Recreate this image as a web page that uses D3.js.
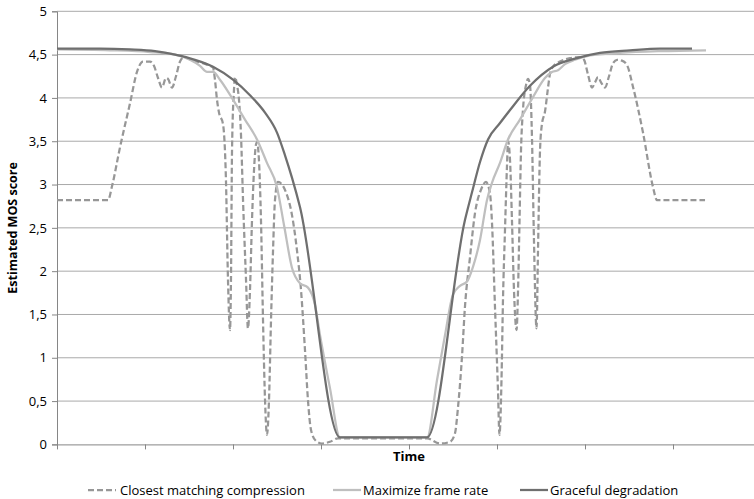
<!DOCTYPE html>
<html>
<head>
<meta charset="utf-8">
<script src="https://cdn.jsdelivr.net/npm/d3@7"></script>
<style>
  html, body { margin: 0; padding: 0; background: #fff; }
  svg { display: block; }
  text { font-family: "Open Sans", "DejaVu Sans", sans-serif; fill: #000; }
</style>
</head>
<body>
<svg id="chart" width="754" height="499"></svg>
<script>
// ---- data (time in arbitrary units, 10 per x tick; value = estimated MOS) ----
const yTicks = [0, 0.5, 1, 1.5, 2, 2.5, 3, 3.5, 4, 4.5, 5];
const yTickLabels = ["0", "0,5", "1", "1,5", "2", "2,5", "3", "3,5", "4", "4,5", "5"];
const xTicks = [0, 10, 20, 30, 40, 50, 60, 70, 80];
const seriesNames = ["Closest matching compression", "Maximize frame rate", "Graceful degradation"];

const closestT = [0, 5.80, 6.25, 7.16, 8.30, 9.09, 9.77, 10.57, 11.02, 11.48, 11.93, 12.39, 12.61, 13.07, 13.52, 13.98, 14.43, 15.45, 16.59, 17.39, 17.73, 17.95, 18.18, 18.41, 18.86, 19.20, 19.43, 19.66, 19.77, 19.89, 20.11, 20.23, 20.45, 20.68, 20.91, 21.14, 21.48, 21.70, 21.93, 22.16, 22.39, 22.61, 22.73, 22.95, 23.18, 23.41, 23.64, 23.86, 24.09, 24.32, 24.55, 24.77, 25.11, 25.57, 26.02, 26.70, 27.27, 27.73, 28.18, 28.52, 28.86, 29.43, 30.11, 31.02, 31.93, 36.93, 42.05,
  43.52, 44.66, 45.23, 45.57, 46.02, 46.36, 46.93, 47.50, 48.18, 48.75, 49.20, 49.43, 49.77, 50.11, 50.28, 50.51, 50.68, 50.91, 51.14, 51.25, 51.48, 51.70, 51.93, 52.22, 52.39, 52.56, 52.73, 52.95, 53.30, 53.52, 53.75, 53.98, 54.20, 54.49, 54.66, 54.89, 55.11, 55.45, 55.80, 56.02, 56.36, 57.16, 58.30, 59.43, 59.89, 60.34, 60.80, 61.14, 61.48, 61.82, 62.27, 62.73, 63.18, 63.64, 64.20, 64.77, 65.45, 66.59, 67.73, 68.18, 73.64];
const closestV = [2.82, 2.82, 2.98, 3.43, 3.94, 4.30, 4.42, 4.42, 4.37, 4.23, 4.12, 4.23, 4.22, 4.12, 4.25, 4.42, 4.47, 4.43, 4.40, 4.37, 4.35, 4.21, 3.98, 3.83, 3.70, 3.05, 1.90, 1.32, 1.90, 3.40, 4.09, 4.24, 4.15, 3.98, 3.57, 2.82, 1.90, 1.34, 1.78, 2.59, 3.17, 3.46, 3.49, 3.28, 2.59, 1.44, 0.51, 0.11, 0.51, 1.44, 2.24, 2.82, 3.03, 3.00, 2.91, 2.65, 2.24, 1.78, 1.09, 0.51, 0.17, 0.04, 0.01, 0.03, 0.07, 0.07, 0.07,
  0.01, 0.03, 0.13, 0.43, 1.01, 1.59, 2.16, 2.67, 2.94, 3.03, 2.90, 2.56, 1.59, 0.63, 0.11, 0.74, 1.67, 2.48, 3.23, 3.50, 3.28, 2.59, 1.78, 1.32, 1.78, 2.59, 3.40, 3.86, 4.15, 4.22, 4.15, 3.52, 2.36, 1.34, 2.24, 3.40, 3.70, 3.84, 4.12, 4.28, 4.36, 4.42, 4.46, 4.47, 4.44, 4.27, 4.12, 4.18, 4.24, 4.18, 4.12, 4.25, 4.40, 4.44, 4.43, 4.38, 4.13, 3.60, 2.97, 2.82, 2.82];

const maxFrameT = [0, 6.02, 10.57, 13.41, 15.11, 16.25, 17.05, 17.73, 18.52, 20.0, 21.36, 22.73, 23.86, 25.0, 25.8, 26.7, 27.61, 28.52, 29.32, 29.89, 31.02, 32.16, 42.05, 43.18, 44.09, 45.0, 45.8, 46.59, 47.27, 48.07, 48.86, 49.43, 50.34, 51.25, 52.61, 54.09, 55.45, 56.25, 56.93, 57.73, 58.86, 60.57, 63.98, 68.52, 73.75];
const maxFrameV = [4.56, 4.55, 4.53, 4.50, 4.44, 4.37, 4.30, 4.30, 4.21, 3.98, 3.75, 3.52, 3.25, 2.97, 2.53, 2.04, 1.86, 1.81, 1.61, 1.26, 0.65, 0.08, 0.08, 0.74, 1.26, 1.73, 1.83, 1.88, 2.05, 2.36, 2.82, 3.02, 3.25, 3.52, 3.75, 4.01, 4.23, 4.30, 4.32, 4.39, 4.44, 4.49, 4.52, 4.54, 4.55];

const gracefulT = [0, 4.89, 8.30, 11.14, 13.41, 15.68, 17.73, 20.0, 21.93, 23.64, 25.0, 25.9, 26.7, 27.61, 32.16, 42.05, 46.36, 47.16, 48.07, 48.98, 50.34, 51.48, 53.75, 56.36, 59.09, 61.7, 65.11, 68.52, 72.16];
const gracefulV = [4.57, 4.57, 4.56, 4.54, 4.50, 4.44, 4.36, 4.21, 4.03, 3.83, 3.60, 3.34, 3.08, 2.74, 0.08, 0.08, 2.59, 2.91, 3.26, 3.52, 3.71, 3.86, 4.14, 4.36, 4.46, 4.52, 4.55, 4.57, 4.57];

// ---- layout ----
const svg = d3.select("#chart");
const x = d3.scaleLinear().domain([0, 80]).range([57, 761]);
const y = d3.scaleLinear().domain([0, 5]).range([444.4, 11.3]);

svg.append("rect").attr("width", 754).attr("height", 499).attr("fill", "#fff");

// gridlines
svg.append("g").selectAll("line").data(yTicks.slice(1)).join("line")
  .attr("x1", x(0)).attr("x2", x(80))
  .attr("y1", d => y(d)).attr("y2", d => y(d))
  .attr("stroke", "#a9a9a9").attr("stroke-width", 1);

// y axis
const yAxis = d3.axisLeft(y).tickValues(yTicks)
  .tickFormat((d, i) => yTickLabels[i]).tickSizeOuter(0).tickSize(5).tickPadding(5);
const gy = svg.append("g").attr("transform", `translate(${x(0)},0)`).call(yAxis);
gy.select(".domain").attr("stroke", "#868686");
gy.selectAll(".tick line").attr("stroke", "#868686");
gy.selectAll(".tick text").attr("font-size", 13).attr("font-family", "Open Sans").attr("fill", "#222");

// x axis
const xAxis = d3.axisBottom(x).tickValues(xTicks).tickFormat("").tickSize(5).tickSizeOuter(0);
const gx = svg.append("g").attr("transform", `translate(0,${y(0)})`).call(xAxis);
gx.select(".domain").attr("stroke", "#868686");
gx.selectAll(".tick line").attr("stroke", "#868686");

// lines
const line = d3.line().x(d => x(d[0])).y(d => y(d[1])).curve(d3.curveMonotoneX);
const zip = (a, b) => a.map((t, i) => [t, b[i]]);

const series = [
  { data: zip(closestT, closestV), color: "#979797", dash: "6,3" },
  { data: zip(maxFrameT, maxFrameV), color: "#bfbfbf", dash: null },
  { data: zip(gracefulT, gracefulV), color: "#6f6f6f", dash: null }
];

series.forEach(s => {
  svg.append("path").datum(s.data)
    .attr("d", line)
    .attr("fill", "none")
    .attr("stroke", s.color)
    .attr("stroke-width", 2.25)
    .attr("stroke-linejoin", "round")
    .attr("stroke-dasharray", s.dash);
});

// axis titles
svg.append("text").attr("x", 409).attr("y", 461)
  .attr("text-anchor", "middle").attr("font-weight", "bold").attr("font-size", 13)
  .text("Time");
svg.append("text")
  .attr("transform", `translate(17,${(y(0) + y(5)) / 2}) rotate(-90)`)
  .attr("text-anchor", "middle").attr("font-weight", "bold").attr("font-size", 12.5)
  .text("Estimated MOS score");

// legend
const legendItems = [
  { name: seriesNames[0], color: "#979797", dash: "6,3", x0: 88, tx: 120 },
  { name: seriesNames[1], color: "#bfbfbf", dash: null, x0: 333, tx: 363 },
  { name: seriesNames[2], color: "#6f6f6f", dash: null, x0: 520, tx: 550 }
];
const lg = svg.append("g");
legendItems.forEach(it => {
  lg.append("line").attr("x1", it.x0).attr("x2", it.x0 + 28).attr("y1", 490).attr("y2", 490)
    .attr("stroke", it.color).attr("stroke-width", 2.25).attr("stroke-dasharray", it.dash);
  lg.append("text").attr("x", it.tx).attr("y", 490).attr("dy", "0.35em")
    .attr("font-size", 13).attr("fill", "#222").text(it.name);
});
</script>
</body>
</html>
